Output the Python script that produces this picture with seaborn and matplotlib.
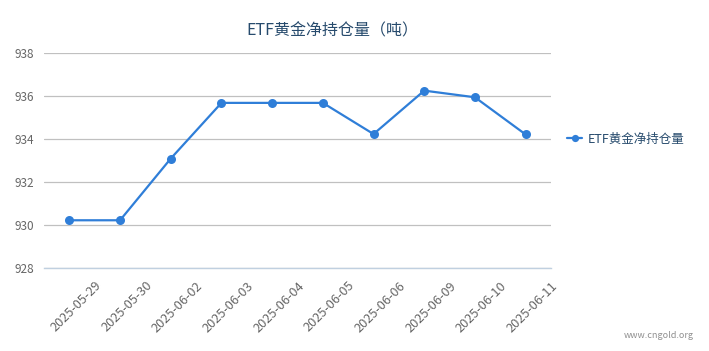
import matplotlib
matplotlib.use('Agg')
import matplotlib.pyplot as plt
import seaborn as sns
import pandas as pd

# ---- Dados
datas = ['2025-05-29', '2025-05-30', '2025-06-02', '2025-06-03', '2025-06-04',
         '2025-06-05', '2025-06-06', '2025-06-09', '2025-06-10', '2025-06-11']
toneladas = [930.22, 930.22, 933.09, 935.68, 935.68, 935.68, 934.23, 936.25, 935.94, 934.21]
serie = 'ETF黄金净持仓量'
titulo = 'ETF黄金净持仓量（吨）'
y_ticks = [928, 930, 932, 934, 936, 938]

df = pd.DataFrame({'data': datas, 'valor': toneladas})

sns.set_style('white')
plt.rcParams['font.family'] = ['Noto Sans CJK SC', 'DejaVu Sans']

cor = '#2f7ed8'
fig = plt.figure(figsize=(7.09, 3.51), dpi=100)
ax = fig.add_axes([44 / 709, 1 - 268 / 351, (551 - 44) / 709, (268 - 53) / 351])

sns.lineplot(data=df, x='data', y='valor', ax=ax, color=cor, linewidth=1.6,
             marker='o', markersize=6.5, markeredgewidth=0, label=serie, sort=False)

ax.set_xlim(-0.5, len(datas) - 0.5)
ax.set_ylim(928, 938)
ax.set_yticks(y_ticks)
ax.set_yticklabels([str(t) for t in y_ticks], color='#666666', fontsize=8.5)
ax.set_xticks([i + 0.5 for i in range(len(datas))] + [-0.5])
ax.set_xticklabels(datas + [''], rotation=45, ha='right', rotation_mode='anchor',
                   color='#666666', fontsize=9.2)
ax.tick_params(axis='x', length=5, color='#C0D0E0', width=1, pad=3)
ax.tick_params(axis='y', length=0, pad=7)
ax.set_xlabel('')
ax.set_ylabel('')

ax.yaxis.grid(True, color='#C0C0C0', linewidth=0.9)
ax.xaxis.grid(False)
for s in ['top', 'right', 'left']:
    ax.spines[s].set_visible(False)
ax.spines['bottom'].set_color('#C0D0E0')
ax.spines['bottom'].set_linewidth(1)
ax.set_axisbelow(True)

fig.text(332 / 709, 1 - 31 / 351, titulo, ha='center', va='center',
         fontsize=11.5, color='#274b6d')

leg = ax.legend(loc='center left', bbox_to_anchor=(1.01, 0.6), frameon=False,
                fontsize=9, handlelength=1.2, handletextpad=0.4, markerscale=0.8)
for t in leg.get_texts():
    t.set_color('#274b6d')

fig.text(694 / 709, 1 - 336 / 351, 'www.cngold.org', ha='right', va='center',
         fontsize=6.5, color='#909090')

fig.savefig('out.png', dpi=100)
